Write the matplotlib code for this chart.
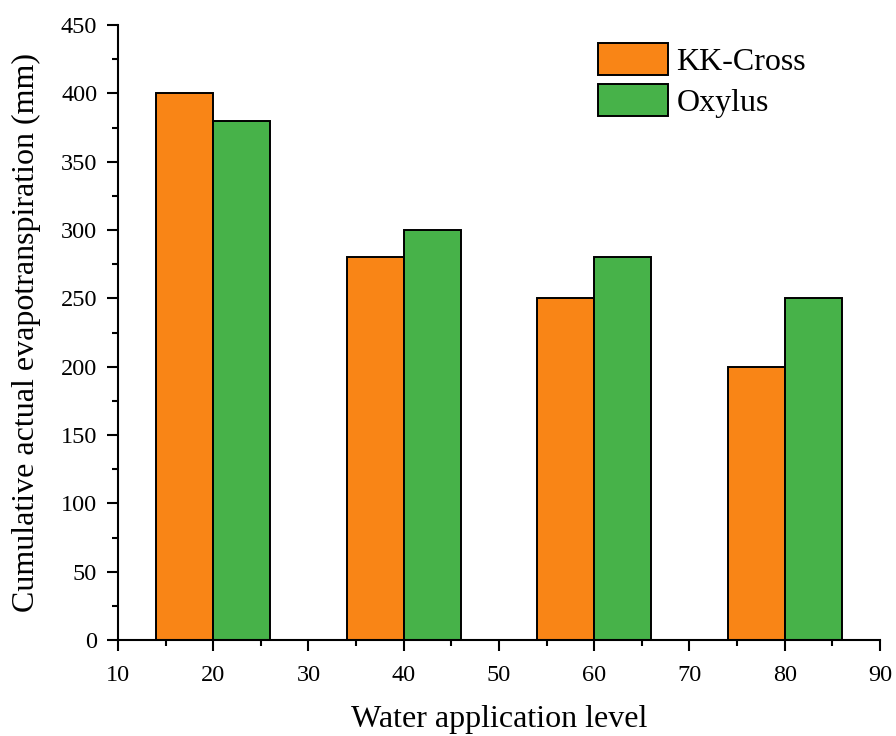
import matplotlib
matplotlib.use("Agg")
import matplotlib.pyplot as plt
from matplotlib.ticker import MultipleLocator

levels = [20, 40, 60, 80]
kk_cross = [400, 280, 250, 200]
oxylus = [380, 300, 280, 250]
series_names = ["KK-Cross", "Oxylus"]

plt.rcParams['font.family'] = ['Liberation Serif', 'DejaVu Serif']

fig = plt.figure(figsize=(8.96, 7.36), dpi=100)
ax = fig.add_axes([0.1317, 0.1304, 0.8504, 0.8356])

w = 6
ax.bar([x - w / 2 for x in levels], kk_cross, width=w, color='#F98516',
       edgecolor='black', linewidth=1.4, label=series_names[0])
ax.bar([x + w / 2 for x in levels], oxylus, width=w, color='#47B249',
       edgecolor='black', linewidth=1.4, label=series_names[1])

ax.set_xlim(10, 90)
ax.set_ylim(0, 450)
ax.xaxis.set_major_locator(MultipleLocator(10))
ax.xaxis.set_minor_locator(MultipleLocator(5))
ax.yaxis.set_major_locator(MultipleLocator(50))
ax.yaxis.set_minor_locator(MultipleLocator(25))
for s in ['top', 'right']:
    ax.spines[s].set_visible(False)
for s in ['left', 'bottom']:
    ax.spines[s].set_linewidth(1.5)
ax.tick_params(which='major', direction='out', length=8, width=1.5, labelsize=17.5, pad=7)
ax.tick_params(axis='x', which='major', pad=10)
ax.tick_params(which='minor', direction='out', length=4.5, width=1.5)

ax.set_xlabel('Water application level', fontsize=23, labelpad=14)
ax.set_ylabel('Cumulative actual evapotranspiration (mm)', fontsize=23, labelpad=14)

ax.legend(loc='upper left', bbox_to_anchor=(0.63, 0.97), frameon=False, fontsize=23,
          handlelength=2.2, handleheight=1.15, handletextpad=0.25, labelspacing=0.22,
          borderaxespad=0, borderpad=0)

fig.savefig('out.png', dpi=100)
